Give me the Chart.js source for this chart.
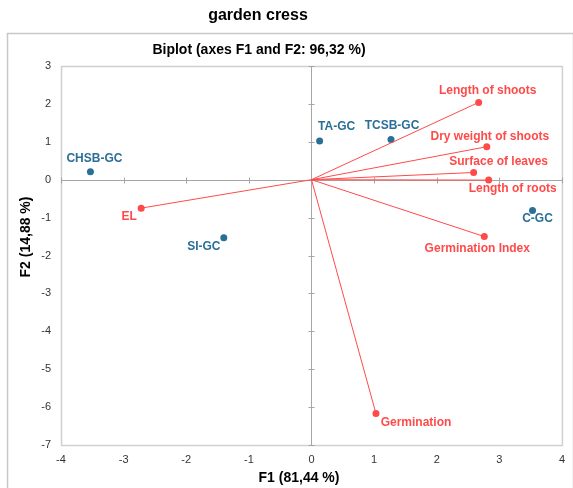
<!DOCTYPE html>
<html>
<head>
<meta charset="utf-8">
<script src="https://cdn.jsdelivr.net/npm/chart.js@4"></script>
<style>
  body { margin: 0; background: #fff; }
  #wrap { width: 573px; height: 488px; }
</style>
</head>
<body>
<div id="wrap"><canvas id="biplot" width="573" height="488"></canvas></div>
<script>
// observations (active) and variables, F1 / F2 coordinates
const obsNames = ['CHSB-GC', 'TA-GC', 'TCSB-GC', 'SI-GC', 'C-GC'];
const obsF1 = [-3.53, 0.13, 1.27, -1.40, 3.53];
const obsF2 = [0.21, 1.02, 1.06, -1.53, -0.81];

const varNames = ['Length of shoots', 'Dry weight of shoots', 'Surface of leaves', 'Length of roots', 'Germination Index', 'Germination', 'EL'];
const varF1 = [2.67, 2.80, 2.59, 2.83, 2.76, 1.03, -2.72];
const varF2 = [2.04, 0.87, 0.19, -0.01, -1.50, -6.17, -0.75];

const xTicks = [-4, -3, -2, -1, 0, 1, 2, 3, 4];
const yTicks = [-7, -6, -5, -4, -3, -2, -1, 0, 1, 2, 3];

// label offsets in pixels from the point (text centre)
const obsLabelOffsets = [[4, -13], [17, -14], [1, -14], [-20, 9], [5, 8]];
const varLabelOffsets = [[9, -12], [3, -10], [25, -11], [24, 9], [-7, 12], [40, 9], [-12, 9]];

const blue = '#2a6f96';
const red = '#ff4a4a';
const fontFam = '"Liberation Sans", Arial, sans-serif';

// build datasets
const datasets = [];
varNames.forEach((name, i) => {
    datasets.push({
        label: name,
        data: [{x: 0, y: 0}, {x: varF1[i], y: varF2[i]}],
        showLine: true,
        borderColor: red,
        borderWidth: 1,
        backgroundColor: red,
        pointRadius: [0, 3.5],
        pointBorderWidth: 0
    });
});
datasets.push({
    label: 'Observations',
    data: obsNames.map((n, i) => ({x: obsF1[i], y: obsF2[i]})),
    backgroundColor: blue,
    borderColor: blue,
    pointRadius: 3.5,
    pointBorderWidth: 0
});

const decor = {
    id: 'decor',
    beforeDraw(chart) {
        const ctx = chart.ctx;
        const a = chart.chartArea;
        const xs = chart.scales.x, ys = chart.scales.y;
        ctx.save();
        // outer frame
        ctx.strokeStyle = '#c8c8c8';
        ctx.lineWidth = 1.5;
        ctx.strokeRect(7.5, 33.5, 566, 500);
        // plot frame
        ctx.strokeStyle = '#d0d0d0';
        ctx.lineWidth = 1.5;
        ctx.strokeRect(a.left + 0.5, a.top + 0.5, a.right - a.left, a.bottom - a.top);
        // zero axes
        const x0 = Math.round(xs.getPixelForValue(0)) + 0.5;
        const y0 = Math.round(ys.getPixelForValue(0)) + 0.5;
        ctx.strokeStyle = '#a6a6a6';
        ctx.lineWidth = 1;
        ctx.beginPath();
        ctx.moveTo(x0, a.top); ctx.lineTo(x0, a.bottom);
        ctx.moveTo(a.left, y0); ctx.lineTo(a.right, y0);
        yTicks.forEach(v => {
            const p = Math.round(ys.getPixelForValue(v)) + 0.5;
            ctx.moveTo(x0 - 3, p); ctx.lineTo(x0 + 3, p);
        });
        xTicks.forEach(v => {
            const p = Math.round(xs.getPixelForValue(v)) + 0.5;
            ctx.moveTo(p, y0 - 3); ctx.lineTo(p, y0 + 3);
        });
        ctx.stroke();
        // titles
        ctx.fillStyle = '#000';
        ctx.textAlign = 'center';
        ctx.textBaseline = 'middle';
        ctx.font = 'bold 16px ' + fontFam;
        ctx.fillText('garden cress', 258, 16);
        ctx.font = 'bold 14px ' + fontFam;
        ctx.fillText('Biplot (axes F1 and F2: 96,32 %)', 259, 50);
        ctx.fillText('F1 (81,44 %)', 299, 478);
        ctx.translate(26, 237);
        ctx.rotate(-Math.PI / 2);
        ctx.fillText('F2 (14,88 %)', 0, 0);
        ctx.restore();
    },
    afterDatasetsDraw(chart) {
        const ctx = chart.ctx;
        const xs = chart.scales.x, ys = chart.scales.y;
        ctx.save();
        ctx.font = 'bold 12px ' + fontFam;
        ctx.textAlign = 'center';
        ctx.textBaseline = 'middle';
        ctx.fillStyle = red;
        varNames.forEach((name, i) => {
            const px = xs.getPixelForValue(varF1[i]);
            const py = ys.getPixelForValue(varF2[i]);
            ctx.fillText(name, px + varLabelOffsets[i][0], py + varLabelOffsets[i][1]);
        });
        ctx.fillStyle = blue;
        obsNames.forEach((name, i) => {
            const px = xs.getPixelForValue(obsF1[i]);
            const py = ys.getPixelForValue(obsF2[i]);
            ctx.fillText(name, px + obsLabelOffsets[i][0], py + obsLabelOffsets[i][1]);
        });
        ctx.restore();
    }
};

new Chart(document.getElementById('biplot'), {
    type: 'scatter',
    data: { datasets: datasets },
    options: {
        responsive: false,
        animation: false,
        layout: { padding: { top: 66, right: 10, left: 0, bottom: 0 } },
        plugins: {
            legend: { display: false },
            tooltip: { enabled: false }
        },
        scales: {
            x: {
                type: 'linear',
                min: -4, max: 4,
                afterBuildTicks: s => { s.ticks = xTicks.map(v => ({value: v})); },
                afterFit: s => { s.height = 43; },
                grid: { display: false, drawTicks: false },
                border: { display: false },
                ticks: { color: '#333', padding: 8, font: { family: fontFam, size: 11 } }
            },
            y: {
                type: 'linear',
                min: -7, max: 3,
                afterBuildTicks: s => { s.ticks = yTicks.map(v => ({value: v})); },
                afterFit: s => { s.width = 61; },
                grid: { display: false, drawTicks: false },
                border: { display: false },
                ticks: { color: '#333', padding: 10, font: { family: fontFam, size: 11 } }
            }
        }
    },
    plugins: [decor]
});
</script>
</body>
</html>
